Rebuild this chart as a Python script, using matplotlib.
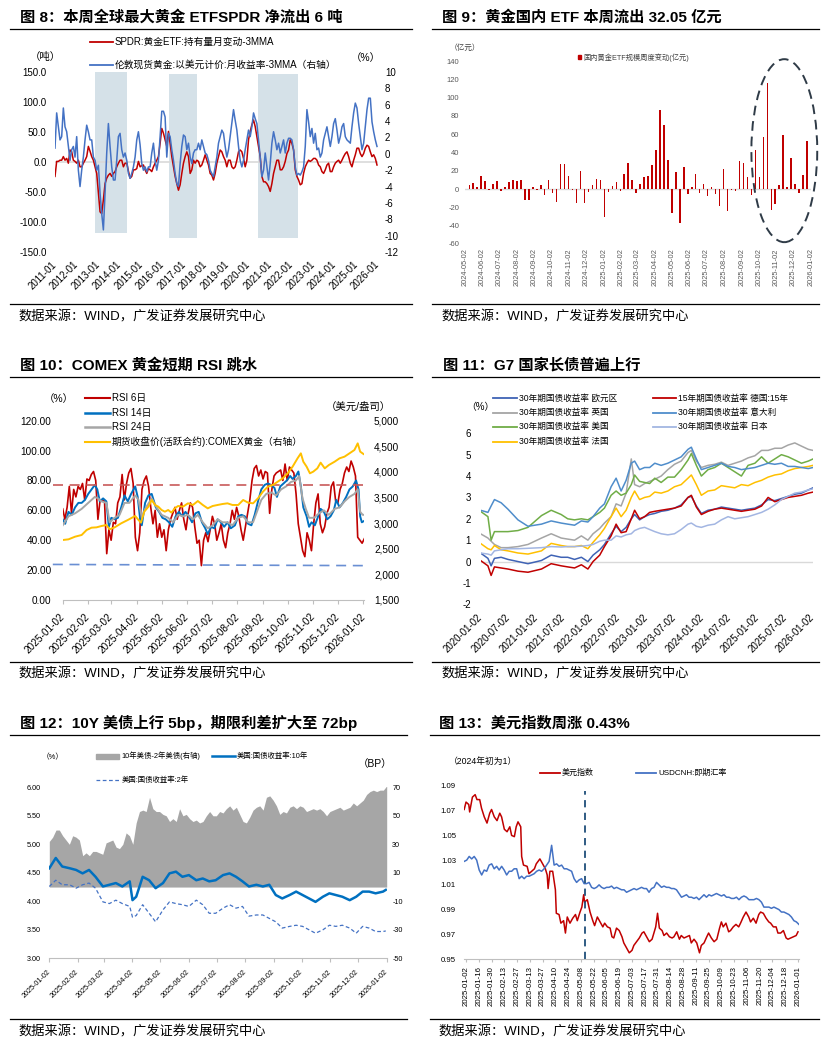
import numpy as np
import pandas as pd
import matplotlib
matplotlib.use("Agg")
import matplotlib.pyplot as plt
from matplotlib.lines import Line2D
from matplotlib.patches import Ellipse, Rectangle
import matplotlib.dates as mdates

plt.rcParams['font.family'] = ['Liberation Sans', 'Noto Sans CJK SC']
plt.rcParams['axes.unicode_minus'] = False

# ---------------- fig 8: SPDR holdings vs gold return (monthly, 2011-01 .. 2025-12)
spdr_chg = [-24, 1, 1, 3, 3, 9, 3, 6, -2, 20,
            17, 3, 1, -2, 3, -8, -8, -2, 3, 9,
            26, 18, 9, 3, -8, -19, -52, -83, -86, -63,
            -36, -27, -22, -19, -24, -19, -16, -8, -2, 3,
            3, -8, -2, -2, -15, -27, -24, -13, -13, -11,
            1, -8, -6, -5, -13, -19, -11, -13, -16, -8,
            -2, 3, 9, 31, 56, 48, 37, 26, 51, 31,
            9, -8, -24, -36, -47, -38, -19, -2, 9, 17,
            9, -19, -13, 3, -2, 3, 1, -8, -5, 3,
            12, 3, -5, -19, -22, -30, -19, -2, 9, 20,
            17, 9, 3, -8, 3, 3, -8, -11, -8, 3,
            17, 20, 17, 6, -8, 3, 37, 51, 62, 70,
            59, 42, 26, 9, -24, -33, -33, -36, -41, -49,
            -36, -19, -8, 3, 3, -13, -13, -8, 1, 14,
            20, 37, 31, 20, -13, -24, -30, -38, -36, -19,
            -8, -2, 3, 1, 3, 6, 6, 3, -5, -8,
            -16, -19, -13, -5, -2, -16, -16, -8, -2, 1,
            3, -2, 3, 9, 14, 17, 9, -2, -8, 3,
            12, 23, 23, 14, 9, 14, 23, 28, 26, 17,
            9, 12, 6, -5]
gold_ret = [0.7, 5.0, 3.3, 1.7, 2.1, 5.6, 3.3, 2.7, 0.9, -0.8,
            0.5, 0.9, -0.4, 2.1, -2.0, -4.0, -2.0, -0.4, 1.7, 3.5,
            2.7, 1.7, 1.7, -0.4, -0.8, -2.0, -1.4, -4.8, -7.3, -9.3,
            -4.8, 0.1, 3.7, 0.9, -1.6, -3.2, -3.2, -0.8, 2.1, 2.5,
            0.5, -0.4, 0.1, -0.8, -2.4, -3.0, -2.4, -1.6, -0.4, 1.7,
            2.7, 1.1, -1.2, -2.0, -1.6, -2.2, -1.6, -1.6, 0.1, 1.3,
            -0.8, -2.0, -0.8, 2.1, 5.2, 5.2, 4.5, -0.4, 2.5, 2.1,
            0.5, -0.8, -2.4, -3.6, -4.0, -1.2, 0.9, 2.3, 2.1, 0.5,
            1.3, -0.4, -1.2, 0.1, 0.5, 0.5, 1.3, 0.5, 1.7, 0.9,
            0.1, -0.1, -0.8, -2.0, -2.4, -2.8, -1.6, -0.4, 1.3, 2.1,
            2.9, 2.5, 0.9, -0.4, 0.5, 2.1, 3.7, 5.4, 4.1, 2.9,
            0.9, -0.8, -1.6, -0.8, 0.5, 1.7, 2.9, 2.1, 3.3, 5.0,
            4.3, 3.7, 1.7, -0.4, -2.8, -2.0, 0.1, -1.6, -3.2, -1.2,
            1.3, 2.7, 1.7, 0.5, 1.3, 0.1, 0.9, 1.7, 0.1, 1.3,
            1.9, 1.9, 1.7, 0.5, -1.6, -2.6, -2.4, -2.6, -2.2, -1.6,
            0.9, 5.4, 3.9, 2.1, 3.1, 1.3, 2.5, 0.5, 0.7, -0.4,
            0.1, 1.7, 2.5, 3.3, 2.1, 0.9, 2.1, 3.7, 4.3, 2.9,
            1.3, 2.1, 3.3, 3.7, 2.1, 1.7, 1.5, 1.3, 3.3, 5.0,
            6.2, 5.6, 3.7, 2.1, 0.5, 1.3, 3.3, 5.4, 6.8, 6.8,
            3.9, 2.7, 1.7, 0.9]
shade_start = ['2012-11-10', '2016-04-18', '2020-06-12']
shade_end = ['2014-05-01', '2017-08-01', '2022-04-10']
shade_low = [-118, -127, -127]
shade_high = [153, 147, 147]

# ---------------- fig 9: weekly change of domestic gold ETF (100m CNY)
etf_flow = [4.4, 6.5, 2, 14, 8.7, -1, 5.5, 8.7, -2.5, 2,
            7.7, 9.8, 8.7, 10, -11.7, -11.7, 2, -1, 5, -6,
            9.5, -4.7, -13.8, 27, 27, 14, -1.5, -15, 19.7, -15,
            -3, 4, 11, 9.8, -31, -3.6, 3.3, 7.7, -1.8, 16.4,
            28, 9.8, -4, 5.5, 12.7, 14, 26, 42.6, 86, 70,
            32, -26, 19, -37.5, 24, -5.8, 1.8, 16.4, -4.4, 6,
            -7.3, 1.8, -5.5, -18, 22, -24, -0.7, -1.8, 31, 28.4,
            13, -6, 43, 13.5, 57, 115.5, -22.6, -16.4, 4, 59,
            1.8, 33.5, 6, -4.4, 15, 53]
circle_center = '2025-11-16'
circle_mid = 42
circle_days = 116
circle_height = 200

# ---------------- fig 10: COMEX gold RSI
rsi6 = [61, 54, 62, 76, 58, 74, 69, 76, 74, 78,
        67, 81, 80, 84, 86, 80, 54, 67, 67, 66,
        31, 47, 40, 52, 51, 65, 69, 84, 67, 78,
        85, 88, 78, 42, 33, 45, 74, 80, 83, 76,
        62, 51, 60, 42, 51, 42, 47, 33, 47, 54,
        58, 62, 54, 60, 65, 54, 47, 58, 65, 62,
        49, 38, 40, 23, 40, 45, 39, 47, 56, 51,
        40, 45, 51, 40, 35, 45, 51, 60, 54, 62,
        56, 47, 40, 49, 58, 67, 80, 88, 90, 83,
        87, 81, 86, 85, 58, 74, 83, 85, 86, 87,
        80, 91, 80, 89, 87, 85, 71, 51, 42, 33,
        29, 45, 40, 33, 51, 65, 71, 51, 45, 49,
        58, 62, 76, 79, 66, 65, 74, 78, 85, 89,
        86, 93, 89, 83, 42, 40, 38, 41]
rsi14_days = [0, 3, 7, 11, 15, 19, 23, 27, 31, 35, 39, 42, 45, 49, 53, 56, 59, 63, 67, 71,
              75, 79, 83, 88, 91, 94, 96, 100, 104, 108, 113, 117, 121, 125, 129, 133, 137, 141, 145, 149,
              153, 157, 161, 165, 169, 173, 176, 180, 184, 188, 192, 196, 200, 204, 209, 213, 217, 221, 225, 229,
              233, 237, 241, 245, 249, 253, 257, 260, 264, 268, 272, 276, 279, 283, 286, 289, 292, 296, 299, 302,
              306, 310, 313, 317, 321, 325, 329, 332, 336, 340, 344, 348, 352, 356, 359, 361, 363, 366]
rsi14 = [54, 51, 59, 57, 62, 65, 65, 67, 71, 74,
         77, 74, 66, 68, 66, 49, 55, 54, 55, 62,
         70, 66, 71, 76, 69, 54, 50, 65, 70, 71,
         62, 59, 55, 54, 52, 49, 56, 59, 56, 59,
         56, 52, 58, 59, 52, 48, 44, 49, 48, 54,
         52, 49, 52, 48, 50, 56, 57, 56, 51, 50,
         57, 66, 74, 77, 78, 77, 75, 69, 76, 78,
         80, 83, 81, 83, 86, 76, 62, 56, 49, 52,
         50, 56, 61, 59, 54, 56, 60, 67, 62, 65,
         69, 74, 76, 80, 74, 56, 52, 53]
rsi24_days = [0, 7, 15, 23, 31, 39, 43, 47, 53, 57, 63, 69, 75, 81, 88, 92, 96, 100, 108, 114,
              120, 128, 134, 140, 146, 152, 158, 164, 170, 176, 182, 188, 194, 200, 206, 213, 219, 225, 231, 235,
              241, 247, 253, 259, 265, 271, 277, 283, 287, 291, 295, 299, 305, 311, 317, 323, 330, 336, 342, 348,
              354, 358, 361, 364, 366]
rsi24 = [50, 56, 58, 61, 65, 69, 68, 66, 65, 52,
         55, 57, 65, 65, 70, 67, 55, 61, 68, 62,
         57, 55, 52, 57, 56, 57, 54, 57, 52, 48,
         50, 54, 52, 52, 50, 55, 56, 52, 52, 58,
         67, 71, 72, 70, 74, 76, 79, 80, 83, 68,
         61, 55, 55, 58, 60, 57, 61, 62, 66, 69,
         71, 74, 59, 57, 57]
comex_days = [0, 7, 15, 23, 29, 35, 41, 47, 53, 57, 63, 71, 79, 88, 92, 95, 99, 104, 108, 112,
              116, 120, 124, 128, 132, 136, 140, 146, 152, 158, 164, 170, 176, 182, 188, 194, 200, 206, 213, 219,
              225, 231, 237, 243, 249, 255, 261, 267, 273, 279, 285, 289, 292, 296, 300, 304, 309, 313, 318, 323,
              330, 336, 342, 348, 354, 358, 361, 365]
comex = [2671, 2684, 2736, 2769, 2866, 2912, 2918, 2944, 2964, 2880,
         2918, 2997, 3062, 3140, 3062, 3010, 3224, 3322, 3452, 3355,
         3322, 3257, 3224, 3257, 3205, 3289, 3335, 3322, 3387, 3355,
         3432, 3355, 3289, 3335, 3355, 3374, 3387, 3355, 3355, 3452,
         3400, 3387, 3485, 3615, 3712, 3745, 3810, 3875, 3973, 4103,
         4266, 4363, 4200, 4103, 3973, 4005, 4070, 4181, 4070, 4135,
         4200, 4266, 4298, 4363, 4428, 4558, 4396, 4350]
band_dates = ['2024-12-21', '2026-01-06']
rsi_upper = [77, 77]
rsi_lower = [23.8, 23.0]

# ---------------- fig 11: G7 long yields (%)
g7_dates = ['2020-01-02', '2020-02-20', '2020-03-12', '2020-04-03', '2020-05-17', '2020-07-01',
            '2020-09-05', '2020-11-10', '2021-02-07', '2021-04-12', '2021-06-17', '2021-07-30',
            '2021-09-13', '2021-10-28', '2021-12-10', '2022-01-13', '2022-02-26', '2022-03-29',
            '2022-05-12', '2022-06-14', '2022-07-17', '2022-08-19', '2022-09-22', '2022-10-14',
            '2022-11-16', '2022-12-19', '2023-01-21', '2023-02-24', '2023-04-07', '2023-05-21',
            '2023-07-04', '2023-08-17', '2023-10-01', '2023-10-23', '2023-11-25', '2023-12-28',
            '2024-02-10', '2024-03-25', '2024-05-08', '2024-06-21', '2024-08-04', '2024-09-17',
            '2024-10-31', '2024-12-15', '2025-01-28', '2025-03-12', '2025-04-25', '2025-06-08',
            '2025-07-22', '2025-09-04', '2025-10-18', '2025-12-02', '2026-01-02']
g7_eur = [0.4, 0.15, -0.2, 0.15, 0.2, 0.1, 0.0, -0.1, 0.05, 0.3,
          0.2, 0.2, 0.1, 0.2, 0.0, 0.3, 0.55, 0.8, 1.3, 1.65,
          1.4, 1.6, 2.0, 2.2, 1.95, 2.1, 2.2, 2.25, 2.35, 2.4,
          2.5, 2.65, 3.0, 3.05, 2.6, 2.25, 2.4, 2.45, 2.55, 2.5,
          2.45, 2.4, 2.45, 2.5, 2.65, 2.9, 2.85, 2.95, 3.05, 3.15,
          3.2, 3.35, 3.45]
g7_de15 = [0.05, -0.2, -0.65, -0.25, -0.3, -0.35, -0.45, -0.5, -0.35, -0.1,
           -0.2, -0.25, -0.3, -0.15, -0.35, 0.0, 0.3, 0.7, 1.2, 1.75,
           1.35, 1.4, 2.0, 2.4, 2.0, 2.1, 2.3, 2.35, 2.4, 2.45,
           2.5, 2.6, 3.0, 3.1, 2.55, 2.2, 2.35, 2.45, 2.5, 2.45,
           2.4, 2.35, 2.4, 2.45, 2.6, 3.0, 2.8, 2.9, 3.0, 3.05,
           3.1, 3.2, 3.25]
g7_uk = [1.3, 1.1, 0.95, 0.8, 0.65, 0.65, 0.7, 0.8, 1.1, 1.3,
         1.1, 1.05, 1.0, 1.2, 1.0, 1.3, 1.55, 1.8, 2.1, 2.7,
         2.6, 3.2, 4.8, 3.6, 3.5, 3.65, 3.75, 3.85, 4.0, 4.3,
         4.55, 4.7, 5.1, 5.2, 4.7, 4.4, 4.5, 4.55, 4.65, 4.5,
         4.6, 4.7, 4.85, 4.95, 5.2, 5.2, 5.3, 5.3, 5.45, 5.55,
         5.4, 5.25, 5.2]
g7_it = [2.4, 2.3, 2.6, 2.9, 2.75, 2.45, 1.95, 1.65, 1.75, 1.9,
         1.8, 1.75, 1.7, 1.9, 1.85, 2.1, 2.5, 2.7, 3.5, 3.9,
         3.3, 3.8, 4.6, 4.7, 4.3, 4.4, 4.4, 4.6, 4.5, 4.6,
         4.75, 4.9, 5.25, 5.35, 4.8, 4.3, 4.4, 4.5, 4.6, 4.45,
         4.4, 4.3, 4.35, 4.4, 4.5, 4.6, 4.55, 4.6, 4.45, 4.45,
         4.4, 4.35, 4.4]
g7_us = [2.35, 2.1, 1.0, 1.4, 1.4, 1.4, 1.45, 1.6, 2.15, 2.4,
         2.2, 2.0, 1.95, 2.0, 1.95, 2.1, 2.3, 2.5, 3.1, 3.3,
         3.1, 3.2, 3.6, 4.05, 3.75, 3.7, 3.65, 3.9, 3.7, 3.95,
         3.95, 4.3, 4.75, 5.05, 4.5, 4.0, 4.3, 4.4, 4.6, 4.4,
         4.2, 4.0, 4.5, 4.6, 4.9, 4.6, 4.8, 5.0, 4.9, 4.75,
         4.6, 4.7, 4.8]
g7_jp = [0.4, 0.35, 0.3, 0.5, 0.55, 0.6, 0.6, 0.62, 0.65, 0.7,
         0.68, 0.7, 0.7, 0.72, 0.75, 0.8, 0.95, 1.0, 1.0, 1.2,
         1.15, 1.25, 1.3, 1.45, 1.55, 1.6, 1.5, 1.4, 1.3, 1.25,
         1.3, 1.5, 1.75, 1.8, 1.65, 1.6, 1.7, 1.75, 1.95, 2.1,
         2.0, 2.05, 2.1, 2.2, 2.3, 2.45, 2.65, 2.9, 3.05, 3.2,
         3.25, 3.35, 3.4]
g7_fr = [0.85, 0.6, 0.55, 0.75, 0.55, 0.5, 0.4, 0.35, 0.5, 0.85,
         0.75, 0.7, 0.7, 0.75, 0.6, 0.9, 1.25, 1.55, 2.1, 2.5,
         2.1, 2.4, 3.0, 3.3, 2.9, 3.0, 3.05, 3.25, 3.2, 3.3,
         3.5, 3.6, 3.9, 4.05, 3.6, 3.1, 3.3, 3.35, 3.55, 3.5,
         3.45, 3.6, 3.55, 3.7, 3.8, 3.95, 4.05, 4.1, 4.25, 4.35,
         4.4, 4.45, 4.5]

# ---------------- fig 12: UST 10Y, 2Y (%), 10Y-2Y spread (bp)
spread = [32, 35, 40, 40, 36, 33, 30, 36, 35, 33,
          22, 24, 22, 25, 25, 24, 23, 31, 32, 33,
          28, 27, 30, 38, 36, 30, 45, 53, 54, 53,
          63, 55, 53, 53, 51, 50, 46, 48, 46, 55,
          50, 51, 48, 46, 47, 45, 46, 50, 53, 50,
          50, 53, 52, 55, 57, 54, 56, 51, 46, 45,
          49, 54, 56, 57, 54, 63, 64, 61, 57, 51,
          53, 52, 56, 57, 55, 57, 56, 53, 54, 55,
          54, 55, 53, 50, 53, 54, 55, 56, 54, 55,
          56, 59, 57, 59, 61, 65, 67, 68, 67, 68,
          68, 71]
ust_days = [0, 7, 14, 22, 29, 36, 43, 50, 58, 65, 72, 79, 87, 90, 94, 101, 108, 115, 123, 130,
            137, 144, 151, 159, 166, 173, 180, 188, 195, 202, 209, 216, 224, 231, 238, 245, 252, 260, 267, 274,
            281, 288, 296, 303, 310, 317, 325, 332, 339, 346, 353, 361, 364]
ust10 = [4.58, 4.76, 4.61, 4.58, 4.55, 4.49, 4.55, 4.43, 4.26, 4.29,
         4.32, 4.26, 4.35, 4.02, 4.08, 4.43, 4.37, 4.23, 4.32, 4.49,
         4.52, 4.43, 4.46, 4.37, 4.40, 4.35, 4.37, 4.46, 4.49, 4.43,
         4.35, 4.26, 4.29, 4.26, 4.29, 4.11, 4.05, 4.11, 4.17, 4.11,
         4.05, 3.99, 4.08, 4.14, 4.11, 4.08, 4.02, 4.08, 4.17, 4.17,
         4.14, 4.17, 4.20]
ust2 = [4.26, 4.37, 4.29, 4.29, 4.23, 4.29, 4.32, 4.23, 3.99, 3.96,
        4.02, 3.96, 3.91, 3.72, 3.75, 3.94, 3.79, 3.64, 3.85, 3.99,
        3.96, 3.94, 3.91, 4.02, 3.94, 3.79, 3.79, 3.88, 3.94, 3.88,
        3.91, 3.74, 3.76, 3.76, 3.70, 3.64, 3.53, 3.56, 3.58, 3.56,
        3.50, 3.44, 3.50, 3.58, 3.56, 3.58, 3.53, 3.44, 3.56, 3.53,
        3.47, 3.47, 3.48]

# ---------------- fig 13: DXY and USDCNH (start of 2024 = 1)
dxy_days = [-2, 0, 3, 4, 7, 10, 12, 15, 17, 20, 23, 26, 28, 31, 34, 37, 39, 42, 45, 48,
            50, 53, 55, 57, 60, 61, 63, 67, 69, 72, 75, 77, 81, 84, 87, 89, 90, 92, 95, 98,
            99, 102, 104, 107, 109, 111, 114, 117, 120, 122, 125, 127, 129, 130, 133, 136, 139, 141, 144, 147,
            150, 152, 155, 158, 160, 162, 165, 168, 171, 173, 176, 179, 182, 184, 187, 190, 193, 195, 198, 201,
            204, 206, 208, 210, 212, 215, 217, 220, 223, 226, 228, 231, 234, 236, 239, 242, 245, 247, 250, 253,
            256, 258, 261, 264, 266, 269, 272, 275, 278, 280, 282, 285, 288, 290, 293, 296, 299, 301, 304, 307,
            310, 312, 315, 318, 321, 323, 326, 329, 332, 334, 337, 340, 342, 345, 348, 351, 353, 356, 359, 362,
            364]
dxy = [1.071, 1.077, 1.075, 1.069, 1.081, 1.083, 1.079, 1.079, 1.072, 1.065,
       1.060, 1.068, 1.071, 1.065, 1.062, 1.068, 1.065, 1.055, 1.053, 1.057,
       1.050, 1.049, 1.057, 1.061, 1.057, 1.033, 1.026, 1.025, 1.019, 1.021,
       1.023, 1.027, 1.031, 1.027, 1.023, 1.018, 1.007, 1.021, 1.021, 1.006,
       0.987, 0.986, 0.979, 0.981, 0.971, 0.984, 0.979, 0.983, 0.986, 0.981,
       0.988, 0.992, 1.002, 0.996, 0.998, 0.988, 0.981, 0.977, 0.984, 0.980,
       0.976, 0.979, 0.976, 0.975, 0.968, 0.967, 0.975, 0.973, 0.968, 0.963,
       0.959, 0.955, 0.957, 0.961, 0.964, 0.967, 0.971, 0.972, 0.968, 0.964,
       0.966, 0.971, 0.976, 0.987, 0.975, 0.973, 0.969, 0.971, 0.968, 0.967,
       0.968, 0.972, 0.966, 0.969, 0.967, 0.968, 0.969, 0.963, 0.966, 0.963,
       0.955, 0.961, 0.963, 0.968, 0.971, 0.967, 0.964, 0.966, 0.975, 0.980,
       0.976, 0.979, 0.972, 0.973, 0.976, 0.978, 0.976, 0.979, 0.984, 0.988,
       0.984, 0.980, 0.983, 0.979, 0.986, 0.988, 0.987, 0.983, 0.980, 0.979,
       0.976, 0.976, 0.971, 0.971, 0.973, 0.967, 0.966, 0.967, 0.968, 0.969,
       0.972]
cnh = [1.029, 1.030, 1.033, 1.031, 1.033, 1.030, 1.022, 1.018, 1.022, 1.021,
       1.026, 1.027, 1.023, 1.025, 1.022, 1.025, 1.022, 1.018, 1.021, 1.021,
       1.023, 1.023, 1.015, 1.017, 1.015, 1.017, 1.017, 1.018, 1.019, 1.021,
       1.022, 1.021, 1.023, 1.026, 1.029, 1.042, 1.026, 1.027, 1.025, 1.026,
       1.023, 1.023, 1.022, 1.021, 1.015, 1.012, 1.014, 1.015, 1.011, 1.011,
       1.012, 1.008, 1.007, 1.008, 1.010, 1.008, 1.007, 1.008, 1.008, 1.009,
       1.007, 1.008, 1.007, 1.006, 1.006, 1.004, 1.005, 1.006, 1.007, 1.006,
       1.007, 1.008, 1.007, 1.007, 1.004, 1.007, 1.008, 1.012, 1.010, 1.008,
       1.009, 1.008, 1.008, 1.007, 1.007, 1.006, 1.003, 1.000, 1.001, 1.002,
       1.000, 1.000, 0.999, 1.000, 0.998, 1.000, 1.002, 1.000, 1.002, 1.001,
       1.002, 1.003, 1.002, 1.001, 1.002, 1.000, 1.000, 0.999, 0.999, 1.000,
       0.998, 1.000, 1.001, 1.000, 0.998, 0.998, 0.998, 0.999, 0.998, 0.996,
       0.992, 0.992, 0.992, 0.991, 0.992, 0.991, 0.990, 0.988, 0.988, 0.987,
       0.986, 0.984, 0.981, 0.980, 0.978]
event_date = '2025-05-12'
event_top = 1.086

SRC = '数据来源：WIND，广发证券发展研究中心'

# ---------------- layout helpers (pixel coordinates of a 834x1053 canvas)
W, H = 834, 1053
fig = plt.figure(figsize=(W / 100, H / 100), dpi=100)


def box(l, t, r, b):
    return fig.add_axes([l / W, 1 - b / H, (r - l) / W, (b - t) / H])


def ftext(x, y, s, fs, **kw):
    kw.setdefault('va', 'center')
    fig.text(x / W, 1 - y / H, s, fontsize=fs, **kw)


def fline(x0, x1, y, **kw):
    fig.add_artist(Line2D([x0 / W, x1 / W], [1 - y / H, 1 - y / H], **kw))


def legline(x0, x1, y, text, fs, **kw):
    fline(x0, x1, y, **kw)
    ftext(x1 + 2, y, text, fs)


def clean(ax, fs, color='black'):
    for sp in ax.spines.values():
        sp.set_visible(False)
    ax.tick_params(length=0, labelsize=fs, colors=color)


def bottom_axis(ax, tick_len):
    ax.spines['bottom'].set_visible(True)
    ax.spines['bottom'].set_color('#bfbfbf')
    ax.tick_params(axis='x', length=tick_len, color='#bfbfbf', width=0.8)


def date_labels(ax, ticks, fmt, rot, fs, pad, color='black'):
    ax.set_xticks(ticks)
    if rot == 45:
        ax.set_xticklabels([d.strftime(fmt) for d in ticks], rotation=45, ha='right',
                           va='center', rotation_mode='anchor', fontsize=fs, color=color)
    else:
        ax.set_xticklabels([d.strftime(fmt) for d in ticks], rotation=90, ha='center',
                           va='top', fontsize=fs, color=color)
    ax.tick_params(axis='x', pad=pad)


headers = [
    (10, 412, 20, 18, '图 8：本周全球最大黄金 ETFSPDR 净流出 6 吨', 17, 29, 304, 317),
    (432, 819, 442, 441, '图 9：黄金国内 ETF 本周流出 32.05 亿元', 17, 29, 304, 317),
    (10, 412, 20, 18, '图 10：COMEX 黄金短期 RSI 跳水', 365.7, 377.3, 662.3, 674.3),
    (432, 819, 443, 441, '图 11：G7 国家长债普遍上行', 365.7, 377.3, 662.3, 674.3),
    (10, 407, 20, 18, '图 12：10Y 美债上行 5bp，期限利差扩大至 72bp', 723.3, 735.3, 1019.3, 1032.3),
    (430, 819, 439, 438, '图 13：美元指数周涨 0.43%', 723.3, 735.3, 1019.3, 1032.3),
]
for x0, x1, tx, sx, title, ty, ry, sry, sy in headers:
    ftext(tx, ty, title, 11, fontweight='bold')
    fline(x0, x1, ry, color='black', lw=0.9)
    fline(x0, x1, sry, color='black', lw=0.9)
    ftext(sx, sy, SRC, 9.5)

# ================= fig 8
ax = box(55, 72, 378, 252)
ax2 = ax.twinx()
d8 = pd.date_range('2011-01-01', '2025-12-15', periods=len(spdr_chg))
for s, e, lo, hi in zip(shade_start, shade_end, shade_low, shade_high):
    ax.fill_between(pd.to_datetime([s, e]), lo, hi, color='#d5e1e8', lw=0, zorder=0)
ax.axhline(0, color='#d9d9d9', lw=1.2, zorder=1)
ax.plot(d8, spdr_chg, color='#c00000', lw=1.1, zorder=2)
ax2.plot(d8, gold_ret, color='#4472c4', lw=1.1)
ax.set_xlim(pd.Timestamp('2011-01-01'), pd.Timestamp('2026-01-01'))
ax.set_ylim(-150, 150)
ax2.set_ylim(-12, 10)
yl = np.arange(-150, 151, 50)
ax.set_yticks(yl)
ax.set_yticklabels([f'{v:.1f}' for v in yl])
ax2.set_yticks(np.arange(-12, 11, 2))
clean(ax, 7)
clean(ax2, 7)
date_labels(ax, pd.date_range('2011-01-01', '2026-01-01', freq='YS'), '%Y-%m', 45, 7, 8)
ax.tick_params(axis='y', pad=6)
ax2.tick_params(axis='y', pad=5)
legline(90, 113, 42, 'SPDR:黄金ETF:持有量月变动-3MMA', 7, color='#c00000', lw=1.3)
legline(90, 113, 65, '伦敦现货黄金:以美元计价:月收益率-3MMA（右轴）', 7, color='#4472c4', lw=1.3)
ftext(45, 57, '（吨）', 7.5, ha='center')
ftext(366, 58, '（%）', 7.5, ha='center')

# ================= fig 9
ax = box(464.7, 61, 811, 244)
d9 = pd.date_range('2024-05-10', periods=len(etf_flow), freq='7D')
ax.axhline(0, color='#d9d9d9', lw=1, zorder=0)
ax.bar(d9, etf_flow, width=2.6, color='#c00000', lw=0, zorder=2)
ax.add_patch(Ellipse((mdates.date2num(pd.Timestamp(circle_center)), circle_mid),
                     width=circle_days, height=circle_height, fill=False,
                     ls=(0, (5, 3)), lw=1.4, ec='#2f3b47', clip_on=False, zorder=3))
ax.set_xlim(pd.Timestamp('2024-05-02'), pd.Timestamp('2026-01-02'))
ax.set_ylim(-60, 140)
ax.set_yticks(np.arange(-60, 141, 20))
clean(ax, 5.5, '#595959')
date_labels(ax, pd.date_range('2024-05-01', '2026-01-01', freq='MS') + pd.Timedelta(days=1),
            '%Y-%m-%d', 90, 5.3, 3, '#595959')
ax.tick_params(axis='y', pad=4)
fig.add_artist(Rectangle((577.5 / W, 1 - 58.8 / H), 3.3 / W, 3.3 / H, color='#c00000'))
ftext(583, 57.3, '国内黄金ETF规模周度变动(亿元)', 5.2, color='#404040')
ftext(465, 48, '（亿元）', 5.5, ha='center', color='#404040')

# ================= fig 10
ax = box(62.7, 420.7, 364.3, 600)
ax2 = ax.twinx()
base10 = pd.Timestamp('2025-01-02')
ax.plot(pd.date_range('2025-01-02', '2026-01-03', periods=len(rsi6)), rsi6, color='#c00000', lw=1.2)
ax.plot(base10 + pd.to_timedelta(rsi14_days, unit='D'), rsi14, color='#0070c0', lw=1.4)
ax.plot(base10 + pd.to_timedelta(rsi24_days, unit='D'), rsi24, color='#a6a6a6', lw=1.4)
ax.plot(pd.to_datetime(band_dates), rsi_upper, color='#c85a5a', lw=1.2, ls=(0, (6, 4)), clip_on=False)
ax.plot(pd.to_datetime(band_dates), rsi_lower, color='#6a8fd3', lw=1.2, ls=(0, (6, 4)), clip_on=False)
ax2.plot(base10 + pd.to_timedelta(comex_days, unit='D'), comex, color='#ffc000', lw=1.4)
ax.set_xlim(pd.Timestamp('2025-01-02'), pd.Timestamp('2026-01-03'))
ax.set_ylim(0, 120)
ax2.set_ylim(1500, 5000)
ax.set_yticks(np.arange(0, 121, 20))
ax.set_yticklabels([f'{v:.2f}' for v in np.arange(0, 121, 20)])
r10 = np.arange(1500, 5001, 500)
ax2.set_yticks(r10)
ax2.set_yticklabels([f'{v:,}' for v in r10])
clean(ax, 7.2)
clean(ax2, 7.2)
bottom_axis(ax, 3)
date_labels(ax, pd.date_range('2025-01-01', '2026-01-01', freq='MS') + pd.Timedelta(days=1),
            '%Y-%m-%d', 45, 7.2, 8)
ax.tick_params(axis='y', pad=8)
ax2.tick_params(axis='y', pad=7)
legline(85, 110, 398.3, 'RSI 6日', 7, color='#c00000', lw=1.5)
legline(85, 110, 412.7, 'RSI 14日', 7, color='#0070c0', lw=1.8)
legline(85, 110, 426.7, 'RSI 24日', 7, color='#a6a6a6', lw=1.8)
legline(85, 110, 441.7, '期货收盘价(活跃合约):COMEX黄金（右轴）', 7, color='#ffc000', lw=1.5)
ftext(59, 399, '（%）', 7.5, ha='center')
ftext(358, 406.7, '（美元/盎司）', 7.5, ha='center')

# ================= fig 11
ax = box(480.5, 433.3, 813, 604.3)
gd = pd.to_datetime(g7_dates)
ax.axhline(0, color='#d9d9d9', lw=1, zorder=0)
g7_lines = [(g7_eur, '#3f63b5'), (g7_uk, '#a5a5a5'), (g7_us, '#70ad47'), (g7_fr, '#ffc000'),
            (g7_de15, '#c00000'), (g7_it, '#4f8dcb'), (g7_jp, '#a3b6e2')]
for vals, col in g7_lines:
    ax.plot(gd, vals, color=col, lw=1.1)
ax.set_xlim(pd.Timestamp('2020-01-02'), pd.Timestamp('2026-01-02'))
ax.set_ylim(-2, 6)
ax.set_yticks(np.arange(-2, 7, 1))
clean(ax, 7)
date_labels(ax, pd.date_range('2020-01-01', '2026-01-01', freq='6MS') + pd.Timedelta(days=1),
            '%Y-%m-%d', 45, 7, 8)
ax.tick_params(axis='y', pad=7)
legline(493, 517, 398.3, '30年期国债收益率 欧元区', 6.2, color='#3f63b5', lw=1.3)
legline(493, 517, 412.7, '30年期国债收益率 英国', 6.2, color='#a5a5a5', lw=1.3)
legline(493, 517, 426.7, '30年期国债收益率 美国', 6.2, color='#70ad47', lw=1.3)
legline(493, 517, 441.7, '30年期国债收益率 法国', 6.2, color='#ffc000', lw=1.3)
legline(652.7, 676.3, 398.3, '15年期国债收益率 德国:15年', 6.2, color='#c00000', lw=1.3)
legline(652.7, 676.3, 412.7, '30年期国债收益率 意大利', 6.2, color='#4f8dcb', lw=1.3)
legline(652.7, 676.3, 426.7, '30年期国债收益率 日本', 6.2, color='#a3b6e2', lw=1.3)
ftext(480, 406.7, '（%）', 7, ha='center')

# ================= fig 12
ax = box(49.3, 787.3, 386.7, 958.3)
ax2 = ax.twinx()
ax.set_zorder(ax2.get_zorder() + 1)
ax.patch.set_visible(False)
ax2.fill_between(pd.date_range('2025-01-02', '2026-01-02', periods=len(spread)), 0, spread,
                 color='#a6a6a6', lw=0)
ud = pd.Timestamp('2025-01-02') + pd.to_timedelta(ust_days, unit='D')
ax.plot(ud, ust10, color='#0070c0', lw=1.8)
ax.plot(ud, ust2, color='#4472c4', lw=0.9, ls=(0, (3, 2)))
ax.set_xlim(pd.Timestamp('2025-01-02'), pd.Timestamp('2026-01-02'))
ax.set_ylim(3, 6)
ax2.set_ylim(-50, 70)
l12 = np.arange(3, 6.01, 0.5)
ax.set_yticks(l12)
ax.set_yticklabels([f'{v:.2f}' for v in l12])
ax2.set_yticks(np.arange(-50, 71, 20))
clean(ax, 5.2)
clean(ax2, 5.2)
bottom_axis(ax, 3)
date_labels(ax, pd.date_range('2025-01-01', '2026-01-01', freq='MS') + pd.Timedelta(days=1),
            '%Y-%m-%d', 45, 5.2, 6)
ax.tick_params(axis='y', pad=6)
ax2.tick_params(axis='y', pad=4)
fig.add_artist(Rectangle((96 / W, 1 - 758.6 / H), 23.3 / W, 4.6 / H, color='#a6a6a6'))
ftext(121.7, 756, '10年美债-2年美债(右轴)', 5.3)
legline(211.7, 235, 756, '美国:国债收益率:10年', 5.3, color='#0070c0', lw=1.8)
legline(96, 119.3, 780, '美国:国债收益率:2年', 5.3, color='#4472c4', lw=0.9, ls=(0, (3, 2)))
ftext(53, 757.3, '（%）', 5.5, ha='center')
ftext(375, 764.3, '（BP）', 7.5, ha='center')

# ================= fig 13
ax = box(464.2, 786, 798.9, 959)
ax.plot(pd.Timestamp('2025-01-02') + pd.to_timedelta(dxy_days, unit='D'), dxy, color='#c00000', lw=1.1)
ax.plot(pd.date_range('2024-12-31', '2026-01-02', periods=len(cnh)), cnh, color='#4472c4', lw=1.1)
ax.plot(pd.to_datetime([event_date, event_date]), [0.95, event_top], color='#1f4e79', lw=1.3,
        ls=(0, (4, 3)))
ax.set_xlim(pd.Timestamp('2024-12-31'), pd.Timestamp('2026-01-02'))
ax.set_ylim(0.95, 1.09)
l13 = np.arange(0.95, 1.0901, 0.02)
ax.set_yticks(l13)
ax.set_yticklabels([f'{v:.2f}' for v in l13])
clean(ax, 5.6)
bottom_axis(ax, 2)
date_labels(ax, pd.date_range('2025-01-02', '2026-01-01', freq='14D'), '%Y-%m-%d', 90, 5.7, 3)
ax.tick_params(axis='y', pad=6)
ftext(449, 761, '（2024年初为1）', 6.3)
legline(539.7, 559.7, 773, '美元指数', 5.8, color='#c00000', lw=1.3)
legline(636, 656, 773, 'USDCNH:即期汇率', 5.8, color='#4472c4', lw=1.3)

fig.savefig('out.png', dpi=100, facecolor='white')
